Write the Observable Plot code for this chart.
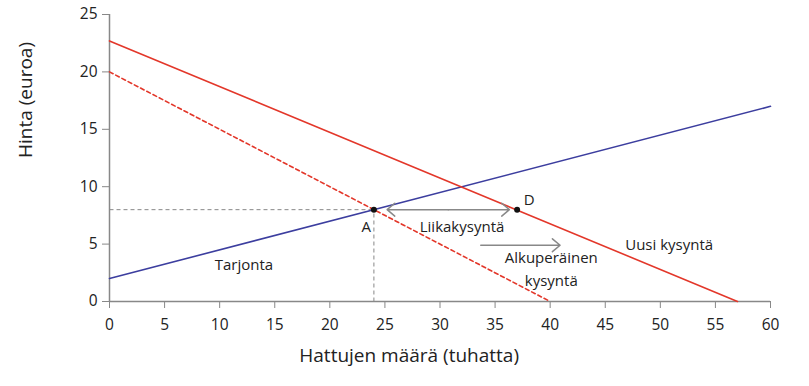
<!DOCTYPE html>
<html><head><meta charset="utf-8">
<script src="https://cdn.jsdelivr.net/npm/d3@7"></script>
<script src="https://cdn.jsdelivr.net/npm/@observablehq/plot@0.6"></script>
<style>body{margin:0;background:#fff;} svg{font-family:"Open Sans",sans-serif;}</style>
</head><body><div id="chart"></div>
<script>
const xTicks = [0,5,10,15,20,25,30,35,40,45,50,55,60];
const yTicks = [0,5,10,15,20,25];
const supplyQ = [0, 60], supplyP = [2, 17];
const origDemandQ = [0, 40], origDemandP = [20, 0];
const newDemandQ = [0, 57], newDemandP = [22.7, 0];
const pointNames = ["A", "D"], pointQ = [24, 37], pointP = [8, 8];
const xLabel = "Hattujen määrä (tuhatta)";
const yLabel = "Hinta (euroa)";
const textLabels = ["A", "D", "Liikakysyntä", "Tarjonta", "Alkuperäinen", "kysyntä", "Uusi kysyntä"];
const textQ = [23.3, 38.1, 32, 12.2, 40.1, 40.1, 50.8];
const textP = [6.5, 8.8, 6.5, 3.2, 3.75, 1.75, 4.9];
// arrows: start q, end q, price level
const arrowQ1 = [30.75, 30.75, 33.7], arrowQ2 = [25.2, 36.3, 40.9], arrowP = [8, 8, 4.9];

const line = (qs, ps) => qs.map((q, i) => ({q, p: ps[i]}));
const red = "#e3372a", blue = "#3c3e9f", gray = "#888";

const chart = Plot.plot({
  width: 809, height: 386,
  marginLeft: 109, marginRight: 39, marginTop: 14, marginBottom: 85,
  x: {domain: [0, 60], ticks: xTicks},
  y: {domain: [0, 25], ticks: yTicks},
  style: {fontSize: "15px", color: "#222"},
  marks: [
    Plot.axisX({ticks: xTicks, tickSize: 7, tickPadding: 10, label: null, stroke: gray, fontSize: 15.5}),
    Plot.axisY({ticks: yTicks, tickSize: 7, tickPadding: 5, label: null, stroke: gray, fontSize: 15.5}),
    Plot.ruleY([0], {stroke: gray, strokeWidth: 1.5}),
    Plot.ruleX([0], {stroke: gray, strokeWidth: 1.5}),
    Plot.link([{q1: 0, p1: pointP[0], q2: pointQ[0], p2: pointP[0]}, {q1: pointQ[0], p1: 0, q2: pointQ[0], p2: pointP[0]}],
      {x1: "q1", y1: "p1", x2: "q2", y2: "p2", stroke: gray, strokeDasharray: "4,3", strokeWidth: 1}),
    Plot.line(line(supplyQ, supplyP), {x: "q", y: "p", stroke: blue, strokeWidth: 1.6}),
    Plot.line(line(origDemandQ, origDemandP), {x: "q", y: "p", stroke: red, strokeWidth: 1.6, strokeDasharray: "4,3"}),
    Plot.line(line(newDemandQ, newDemandP), {x: "q", y: "p", stroke: red, strokeWidth: 1.6}),
    Plot.arrow(arrowQ1.map((q1, i) => ({q1, q2: arrowQ2[i], p: arrowP[i]})),
      {x1: "q1", x2: "q2", y1: "p", y2: "p", stroke: gray, strokeWidth: 1.5, headLength: 10, headAngle: 80}),
    Plot.dot(pointNames.map((n, i) => ({n, q: pointQ[i], p: pointP[i]})), {x: "q", y: "p", r: 3, fill: "#111"}),
    Plot.text(textLabels.map((t, i) => ({t, q: textQ[i], p: textP[i]})), {x: "q", y: "p", text: "t", fontSize: 15, fill: "#222"}),
    Plot.text([xLabel], {x: 27.2, y: 0, dy: 54, text: d => d, fontSize: 19, fill: "#222"}),
    Plot.text([yLabel], {frameAnchor: "left", dx: -84, rotate: -90, text: d => d, fontSize: 19, fill: "#222"})
  ]
});
document.getElementById("chart").append(chart);
</script></body></html>
